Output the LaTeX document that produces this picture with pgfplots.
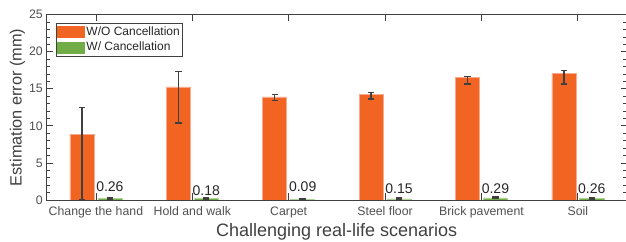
\documentclass[border=0pt]{standalone}
\usepackage{pgfplots}
\pgfplotsset{compat=1.18}
\usepackage{fontspec}
\setmainfont{Liberation Sans}
\definecolor{barorange}{RGB}{242,100,34}
\definecolor{bargreen}{RGB}{112,173,71}
\definecolor{axgray}{RGB}{64,64,64}
\definecolor{txtgray}{RGB}{80,80,80}
\begin{document}
\begin{tikzpicture}
\begin{axis}[
  scale only axis, width=580.7pt, height=185.3pt,
  xmin=0.485, xmax=6.51, ymin=0, ymax=25,
  ybar, bar width=0.25,
  xtick={1,2,3,4,5,6},
  xticklabels={Change the hand, Hold and walk, Carpet, Steel floor, Brick pavement, Soil},
  ytick={0,5,10,15,20,25}, minor y tick num=4,
  tick align=inside, major tick length=6.5pt, minor tick length=3.7pt,
  axis line style={axgray, line width=0.9pt},
  every tick/.style={axgray, line width=0.8pt},
  /pgf/number format/assume math mode=true,
  ticklabel style={font=\fontsize{12.3}{14}\selectfont, text=txtgray},
  xticklabel style={anchor=base, yshift=-16pt},
  xlabel={Challenging real-life scenarios},
  ylabel={Estimation error (mm)},
  xlabel style={at={(axis description cs:0.5,0)}, anchor=base, yshift=-37pt, font=\fontsize{18}{20}\selectfont, text=axgray},
  ylabel style={at={(axis description cs:-0.0499,0.5)}, anchor=center, rotate=0, font=\fontsize{16.3}{18}\selectfont, text=axgray},
  legend style={at={(axis description cs:0,1)}, anchor=north west, xshift=9.4pt, yshift=-8pt,
    draw=axgray, line width=0.7pt, fill=white, inner sep=1pt, row sep=0pt,
    font=\fontsize{12}{14}\selectfont, text=black!85,
    nodes={inner sep=1.4pt, text height=9.6pt, text depth=3.4pt}},
  legend cell align=left,
  legend image code/.code={\path[#1, draw=none] (0pt,-6.2pt) rectangle (28pt,6.2pt);},
]
\addplot[bar shift=-0.145, fill=barorange, draw={rgb,255:red,248;green,170;blue,140}, line width=0.6pt,
  error bars/.cd, y dir=both, y explicit,
  error bar style={axgray, line width=1.4pt},
  error mark options={rotate=90, mark size=3.2pt, axgray, line width=1.4pt}]
  coordinates {
  (1,8.90)  += (0,3.55) -= (0,8.90)
  (2,15.27) += (0,2.07) -= (0,4.87)
  (3,13.90) += (0,0.31) -= (0,0.50)
  (4,14.30) += (0,0.18) -= (0,0.67)
  (5,16.56) += (0,0.10) -= (0,0.91)
  (6,17.05) += (0,0.40) -= (0,1.40)
  };
\addlegendentry{W/O Cancellation}
\addplot[bar shift=0.145, fill=bargreen, draw={rgb,255:red,175;green,212;blue,150}, line width=0.6pt,
  point meta=explicit symbolic, nodes near coords,
  every node near coord/.append style={anchor=base, font=\fontsize{14}{16}\selectfont, text=black!85, inner sep=0pt},
  error bars/.cd, y dir=both, y explicit,
  error bar style={axgray, line width=1.4pt},
  error mark options={rotate=90, mark size=3.2pt, axgray, line width=1.4pt}]
  coordinates {
  (1,0.26) +- (0,0.10) [\raisebox{6.4pt}{0.26}]
  (2,0.18) +- (0,0.10) [\raisebox{3pt}{0.18}]
  (3,0.09) +- (0,0.10) [\raisebox{7.6pt}{0.09}]
  (4,0.15) +- (0,0.10) [\raisebox{5.6pt}{0.15}]
  (5,0.29) +- (0,0.10) [\raisebox{4.6pt}{0.29}]
  (6,0.26) +- (0,0.10) [\raisebox{4.8pt}{0.26}]
  };
\addlegendentry{W/ Cancellation}
\end{axis}
\pgfresetboundingbox
\path ([xshift=-46.3pt,yshift=-42pt]current axis.south west) rectangle ([xshift=-1pt,yshift=14.7pt]current axis.north east);
\end{tikzpicture}
\end{document}
